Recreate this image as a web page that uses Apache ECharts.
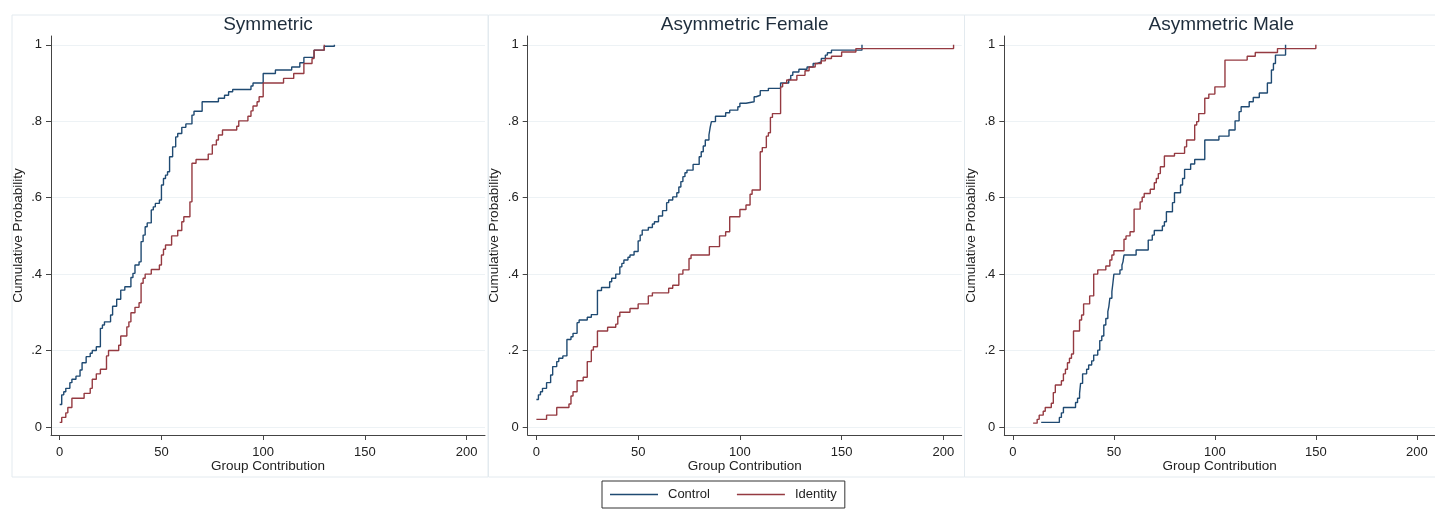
<!DOCTYPE html>
<html>
<head>
<meta charset="utf-8">
<script src="https://cdn.jsdelivr.net/npm/echarts@6/dist/echarts.min.js"></script>
<style>
html,body{margin:0;padding:0;background:#fff;}
#chart{width:1435px;height:512px;}
</style>
</head>
<body>
<div id="chart"></div>
<script>
// ---- Data ----
const panelTitles = ['Symmetric', 'Asymmetric Female', 'Asymmetric Male'];
const seriesNames = ['Control', 'Identity'];
const xTicks = [0, 50, 100, 150, 200];
const yTicks = [0, 0.2, 0.4, 0.6, 0.8, 1];

// Symmetric - Control
const symCtrlX = [0,1,2,3,5,6,8,10,11,13,15,16,18,20,21,22,25,26,28,30,32,35,36,37,39,40,41,42,43,45,46,47,49,50,51,52,53,54,55.5,57,58,60,62,65,66,70,78,81,83,85,94,95,100,106,114,118,120,125,130,135];
const symCtrlY = [.059,.084,.092,.101,.116,.125,.133,.149,.168,.184,.193,.2,.21,.258,.267,.275,.293,.316,.334,.358,.367,.391,.402,.424,.432,.485,.502,.524,.534,.568,.576,.585,.594,.633,.65,.659,.668,.707,.733,.759,.768,.784,.793,.816,.826,.851,.86,.868,.877,.883,.892,.9,.925,.934,.942,.953,.967,.986,.996,1.0];
// Symmetric - Identity
const symIdX = [0,1,3,4,6,12,15,16,18,20,23,24,29,30,33,34,35,37,39,40,41,42,45,49,50,51,52,55,58,60,61,64,65,67,73,75,77,78,80,87,88,92.5,94,95,97,98,100,110,115,120,124,125,130];
const symIdY = [.012,.025,.037,.051,.075,.088,.101,.125,.139,.151,.186,.2,.214,.238,.262,.275,.299,.313,.325,.376,.389,.4,.412,.424,.45,.465,.476,.5,.514,.537,.55,.589,.69,.7,.714,.738,.751,.764,.777,.787,.801,.813,.827,.84,.851,.864,.9,.912,.925,.951,.964,.986,1.0];
// Asymmetric Female - Control
const afCtrlX = [0,1,2,3,5,7,8,10,11,13,15,17,18,20,21,25,27,30,32,36,37,39,41,42,43,45,46,48,50,51,52,55,57,58,60,62,64,65,67,69,70,71,72,73,74,77,80,81,82,83,84.8,85.4,86,88,93,95,99,100,103,107,108,110,114,120,124,125,126,129,133,136,138,140,142,143,145,160];
const afCtrlY = [.072,.084,.092,.101,.116,.136,.158,.171,.18,.186,.229,.236,.245,.273,.28,.287,.294,.357,.365,.38,.389,.4,.419,.428,.437,.444,.45,.459,.487,.502,.515,.522,.531,.537,.552,.566,.587,.594,.602,.613,.628,.642,.655,.665,.672,.687,.707,.72,.735,.751,.764,.784,.799,.813,.822,.829,.838,.847,.851,.864,.868,.88,.886,.9,.909,.92,.929,.936,.942,.951,.955,.964,.973,.979,.986,1.0];
// Asymmetric Female - Identity
const afIdX = [0,5,10,16,17,18,20,23,25,27,28,30,35,39,40,41,46,50,55,57,65,67,70,72,75,76,85,90,93,95,100,103,105,106,110,111,113,114,115,116,120,121,123,128,132,134,137,140,142,145,150,157,205];
const afIdY = [.02,.031,.051,.06,.081,.092,.121,.13,.171,.201,.21,.251,.261,.269,.289,.3,.31,.322,.343,.351,.363,.371,.4,.411,.441,.45,.472,.5,.511,.55,.569,.581,.609,.62,.72,.731,.761,.77,.81,.82,.89,.899,.908,.92,.932,.942,.951,.958,.964,.97,.981,.99,1.0];
// Asymmetric Male - Control
const amCtrlX = [14,23,24,25,31,32,33,33.5,34.5,36.5,37.5,39,40,42,43,44,45,46,47,47.5,48,49,49.5,50,53,54,54.5,55,61,67,69,70,74,75,76,79,80,83,84,85,88,90,95,102,107,110,112,113,117,119,122,126,128,129,130,135];
const amCtrlY = [.012,.025,.037,.051,.064,.075,.088,.114,.139,.151,.162,.173,.188,.201,.226,.238,.267,.284,.302,.315,.337,.354,.376,.4,.411,.424,.432,.45,.463,.489,.502,.514,.526,.537,.563,.587,.613,.633,.65,.674,.688,.7,.751,.761,.777,.801,.825,.838,.851,.862,.874,.9,.934,.951,.973,1.0];
// Asymmetric Male - Identity
const amIdX = [10,12,13,15,16,19,20,21,24,25,26,27,28,29,30,33,34,35,38,40,42,46,48,49,50,55,56,58,60,63,64,65,68,70,71,72,73,75,80,85,86,90,91,92,95,97,100,105,116,120,131,150];
const amIdY = [.01,.02,.031,.041,.051,.062,.09,.11,.121,.139,.151,.168,.18,.191,.251,.28,.293,.322,.343,.4,.411,.421,.437,.45,.461,.491,.5,.511,.57,.589,.601,.611,.622,.639,.65,.663,.681,.709,.716,.733,.751,.79,.799,.82,.86,.871,.89,.96,.97,.98,.99,1.0];

const panels = [
  [[symCtrlX, symCtrlY], [symIdX, symIdY]],
  [[afCtrlX, afCtrlY], [afIdX, afIdY]],
  [[amCtrlX, amCtrlY], [amIdX, amIdY]]
];

// ---- Layout / style ----
const FONT = '"Liberation Sans", Arial, sans-serif';
const colors = ['#1f4a72', '#953a41'];
const gridLefts = [51, 527.7, 1004.3];
const gridW = 434, gridTop = 36, gridH = 399;
const boxLefts = [9.5, 486, 962];

const zip = (xs, ys) => xs.map((x, i) => [x, ys[i]]);
const yFmt = v => {
  const r = Math.round(v * 10) / 10;
  if (r === 0) return '0';
  if (r === 1) return '1';
  return String(r).replace(/^0/, '');
};

const grids = [], xAxes = [], yAxes = [], titles = [], series = [], graphics = [];
panels.forEach((p, i) => {
  grids.push({left: gridLefts[i], top: gridTop, width: gridW, height: gridH, containLabel: false});
  xAxes.push({
    type: 'value', gridIndex: i, min: -4.27, max: 209,
    axisLine: {show: true, onZero: false, lineStyle: {color: '#444', width: 1}},
    axisTick: {show: true, length: 5, customValues: xTicks, lineStyle: {color: '#444'}},
    axisLabel: {customValues: xTicks, fontSize: 13, color: '#222', margin: 11, fontFamily: FONT},
    splitLine: {show: false},
    name: 'Group Contribution', nameLocation: 'middle', nameGap: 24, nameMoveOverlap: false,
    nameTextStyle: {fontSize: 13.5, color: '#222', fontFamily: FONT}
  });
  yAxes.push({
    type: 'value', gridIndex: i, min: -0.021, max: 1.023,
    axisLine: {show: true, onZero: false, lineStyle: {color: '#444', width: 1}},
    axisTick: {show: true, length: 5, customValues: yTicks, lineStyle: {color: '#444'}},
    axisLabel: {customValues: yTicks, fontSize: 13, color: '#222', margin: 9, fontFamily: FONT, formatter: yFmt},
    splitLine: {show: true, lineStyle: {color: '#edf2f5', width: 1}},
    name: 'Cumulative Probability', nameLocation: 'middle', nameRotate: 90, nameGap: 26, nameMoveOverlap: false,
    nameTextStyle: {fontSize: 13.5, color: '#222', fontFamily: FONT}
  });
  titles.push({
    text: panelTitles[i], left: gridLefts[i] + gridW / 2, top: 15, textAlign: 'center', padding: 0,
    textStyle: {fontSize: 19, fontWeight: 'normal', color: '#1e2d3c', fontFamily: FONT}
  });
  p.forEach((s, k) => {
    series.push({
      type: 'line', name: seriesNames[k], xAxisIndex: i, yAxisIndex: i,
      step: 'end', symbol: 'none', data: zip(s[0], s[1]),
      lineStyle: {color: colors[k], width: 1.4}, itemStyle: {color: colors[k]},
      emphasis: {disabled: true}, z: 3
    });
  });
  graphics.push({
    type: 'rect', left: boxLefts[i], top: 12.5, silent: true, z: -10,
    shape: {width: 476, height: 462},
    style: {fill: 'none', stroke: '#e3eaef', lineWidth: 1}
  });
});

const chart = echarts.init(document.getElementById('chart'), null, {renderer: 'canvas'});
chart.setOption({
  animation: false,
  backgroundColor: '#ffffff',
  textStyle: {fontFamily: FONT},
  title: titles,
  grid: grids,
  xAxis: xAxes,
  yAxis: yAxes,
  series: series,
  graphic: graphics,
  legend: {
    data: seriesNames.map(n => ({name: n, icon: 'rect'})), left: 602, top: 481, orient: 'horizontal',
    padding: [6, 8, 6, 8], itemWidth: 48, itemHeight: 1.5, itemGap: 27,
    borderColor: '#333', borderWidth: 1,
    textStyle: {fontSize: 13, color: '#222', fontFamily: FONT, padding: [0, 0, 0, 5], lineHeight: 15},
    selectedMode: false
  }
});
</script>
</body>
</html>
